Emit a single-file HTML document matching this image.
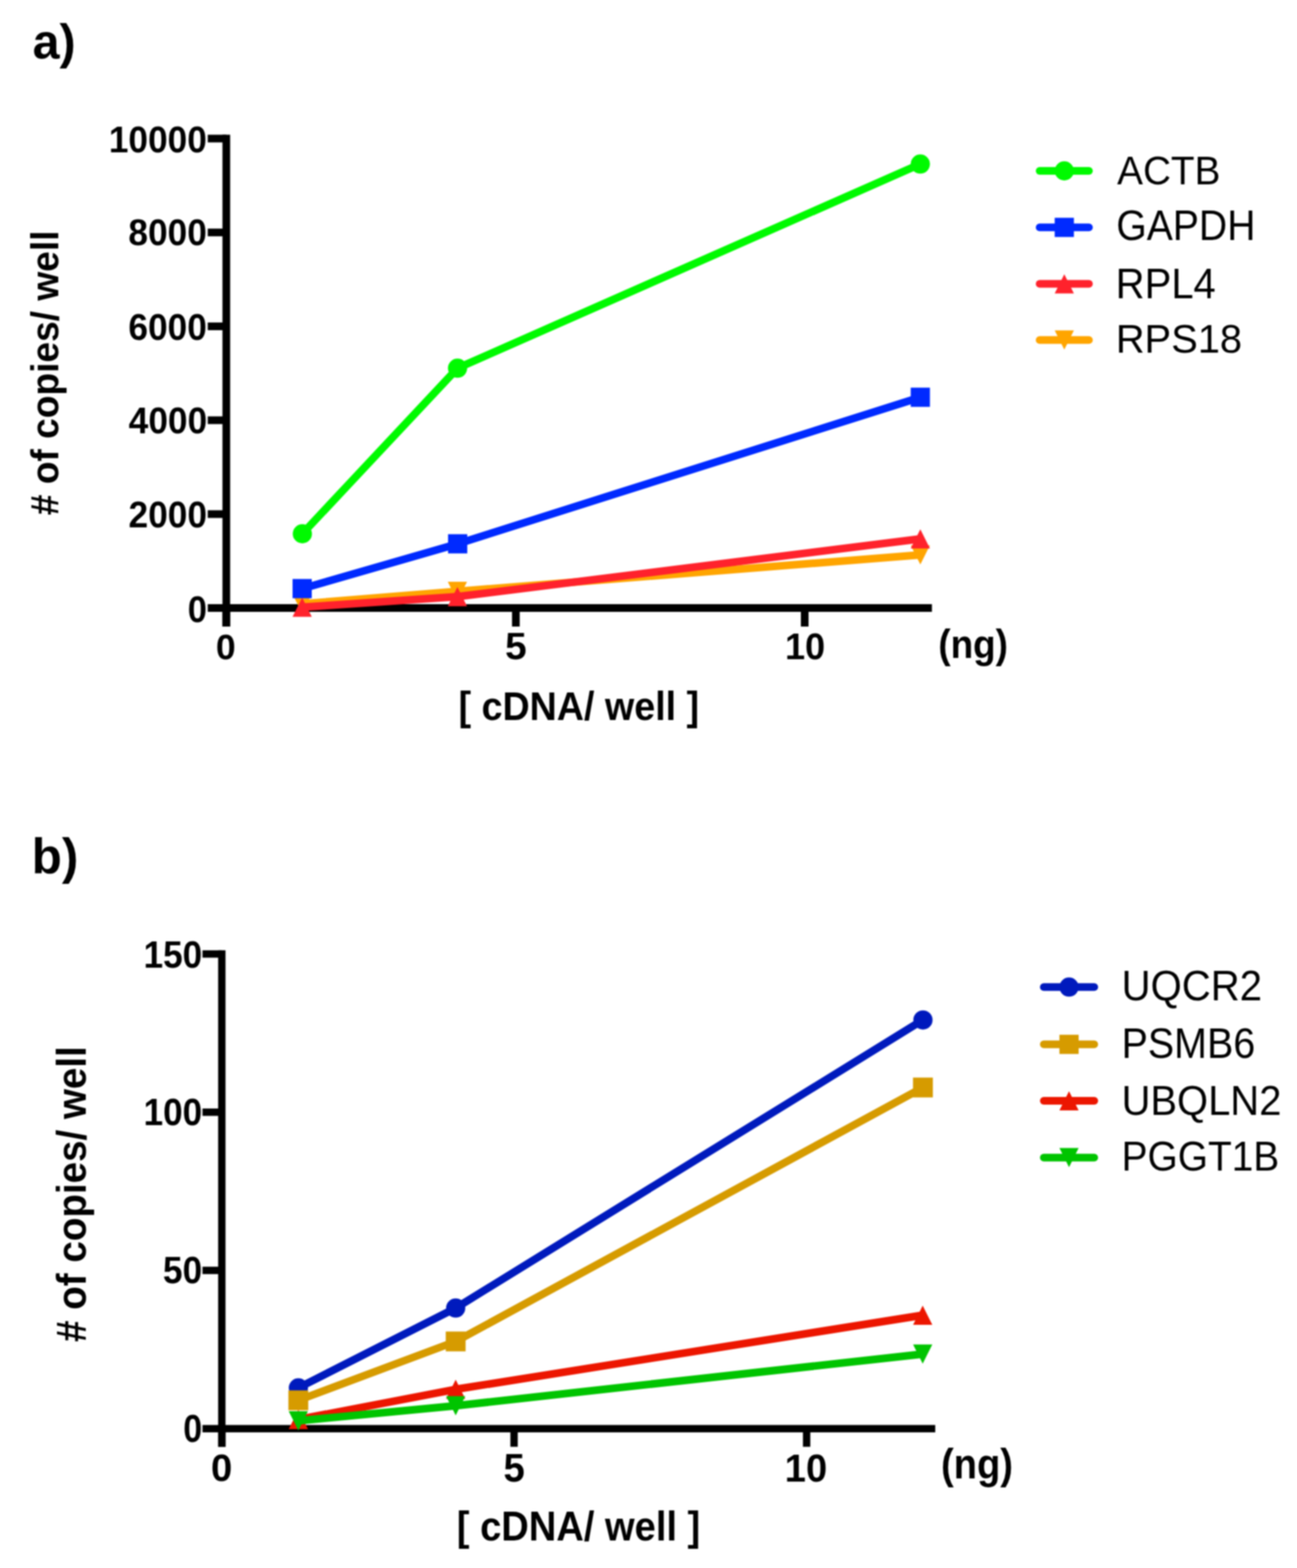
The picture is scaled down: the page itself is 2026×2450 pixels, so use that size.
<!DOCTYPE html>
<html><head><meta charset="utf-8"><title>Figure</title>
<style>html,body{margin:0;padding:0;background:#fff;}svg{display:block;filter:blur(1px);}</style>
</head><body>
<svg width="2026" height="2450" viewBox="0 0 2026 2450">
<rect x="0" y="0" width="2026" height="2450" fill="#fff"/>
<rect x="347.50" y="210.50" width="12.00" height="768.50" fill="#000"/>
<rect x="324.50" y="210.50" width="29.00" height="12.00" fill="#000"/>
<rect x="324.50" y="357.20" width="29.00" height="12.00" fill="#000"/>
<rect x="324.50" y="503.90" width="29.00" height="12.00" fill="#000"/>
<rect x="324.50" y="650.60" width="29.00" height="12.00" fill="#000"/>
<rect x="324.50" y="797.30" width="29.00" height="12.00" fill="#000"/>
<rect x="324.50" y="944.00" width="29.00" height="12.00" fill="#000"/>
<rect x="347.50" y="944.00" width="1108.20" height="12.00" fill="#000"/>
<rect x="347.50" y="950.00" width="12.00" height="29.00" fill="#000"/>
<rect x="799.80" y="950.00" width="12.00" height="29.00" fill="#000"/>
<rect x="1251.00" y="950.00" width="12.00" height="29.00" fill="#000"/>
<rect x="340.75" y="1484.80" width="11.50" height="775.80" fill="#000"/>
<rect x="316.30" y="1484.85" width="30.20" height="11.50" fill="#000"/>
<rect x="316.30" y="1732.05" width="30.20" height="11.50" fill="#000"/>
<rect x="316.30" y="1979.25" width="30.20" height="11.50" fill="#000"/>
<rect x="316.30" y="2226.55" width="30.20" height="11.50" fill="#000"/>
<rect x="340.75" y="2226.55" width="1120.15" height="11.50" fill="#000"/>
<rect x="340.85" y="2232.30" width="11.50" height="28.30" fill="#000"/>
<rect x="797.25" y="2232.30" width="11.50" height="28.30" fill="#000"/>
<rect x="1254.25" y="2232.30" width="11.50" height="28.30" fill="#000"/>
<path d="M 472.00 943.50 L 714.50 924.00 L 1437.60 867.00" fill="none" stroke="#FFA500" stroke-width="12" stroke-linejoin="round" stroke-linecap="round"/>
<polygon points="457.00,928.50 487.00,928.50 472.00,958.50" fill="#FFA500"/>
<polygon points="699.50,909.00 729.50,909.00 714.50,939.00" fill="#FFA500"/>
<polygon points="1422.60,852.00 1452.60,852.00 1437.60,882.00" fill="#FFA500"/>
<path d="M 472.00 948.70 L 714.50 932.30 L 1437.60 842.00" fill="none" stroke="#FF222C" stroke-width="12" stroke-linejoin="round" stroke-linecap="round"/>
<polygon points="472.00,933.70 487.00,963.70 457.00,963.70" fill="#FF222C"/>
<polygon points="714.50,917.30 729.50,947.30 699.50,947.30" fill="#FF222C"/>
<polygon points="1437.60,827.00 1452.60,857.00 1422.60,857.00" fill="#FF222C"/>
<path d="M 472.00 919.70 L 714.90 849.70 L 1437.60 620.70" fill="none" stroke="#002AFF" stroke-width="12" stroke-linejoin="round" stroke-linecap="round"/>
<rect x="457.00" y="904.70" width="30.00" height="30.00" fill="#002AFF"/>
<rect x="699.90" y="834.70" width="30.00" height="30.00" fill="#002AFF"/>
<rect x="1422.60" y="605.70" width="30.00" height="30.00" fill="#002AFF"/>
<path d="M 472.30 834.00 L 714.70 575.30 L 1437.60 256.30" fill="none" stroke="#00FA00" stroke-width="12" stroke-linejoin="round" stroke-linecap="round"/>
<circle cx="472.30" cy="834.00" r="15.00" fill="#00FA00"/>
<circle cx="714.70" cy="575.30" r="15.00" fill="#00FA00"/>
<circle cx="1437.60" cy="256.30" r="15.00" fill="#00FA00"/>
<line x1="1624.00" y1="267.00" x2="1701.00" y2="267.00" stroke="#00FA00" stroke-width="12" stroke-linecap="round"/>
<circle cx="1662.50" cy="267.00" r="15.00" fill="#00FA00"/>
<line x1="1624.00" y1="355.30" x2="1701.00" y2="355.30" stroke="#002AFF" stroke-width="12" stroke-linecap="round"/>
<rect x="1647.50" y="340.30" width="30.00" height="30.00" fill="#002AFF"/>
<line x1="1624.00" y1="443.50" x2="1701.00" y2="443.50" stroke="#FF222C" stroke-width="12" stroke-linecap="round"/>
<polygon points="1662.50,428.50 1677.50,458.50 1647.50,458.50" fill="#FF222C"/>
<line x1="1624.00" y1="531.30" x2="1701.00" y2="531.30" stroke="#FFA500" stroke-width="12" stroke-linecap="round"/>
<polygon points="1647.50,516.30 1677.50,516.30 1662.50,546.30" fill="#FFA500"/>
<path d="M 466.10 2168.50 L 711.80 2043.80 L 1441.70 1593.70" fill="none" stroke="#001ABD" stroke-width="12" stroke-linejoin="round" stroke-linecap="round"/>
<circle cx="466.10" cy="2168.50" r="15.00" fill="#001ABD"/>
<circle cx="711.80" cy="2043.80" r="15.00" fill="#001ABD"/>
<circle cx="1441.70" cy="1593.70" r="15.00" fill="#001ABD"/>
<path d="M 466.00 2188.00 L 711.80 2096.00 L 1441.70 1699.20" fill="none" stroke="#D69B00" stroke-width="12" stroke-linejoin="round" stroke-linecap="round"/>
<rect x="450.50" y="2172.50" width="31.00" height="31.00" fill="#D69B00"/>
<rect x="696.30" y="2080.50" width="31.00" height="31.00" fill="#D69B00"/>
<rect x="1426.20" y="1683.70" width="31.00" height="31.00" fill="#D69B00"/>
<path d="M 466.00 2218.00 L 711.80 2170.80 L 1441.30 2055.00" fill="none" stroke="#EC1600" stroke-width="12" stroke-linejoin="round" stroke-linecap="round"/>
<polygon points="466.00,2203.00 481.00,2233.00 451.00,2233.00" fill="#EC1600"/>
<polygon points="711.80,2155.80 726.80,2185.80 696.80,2185.80" fill="#EC1600"/>
<polygon points="1441.30,2040.00 1456.30,2070.00 1426.30,2070.00" fill="#EC1600"/>
<path d="M 466.00 2220.00 L 711.80 2196.50 L 1441.30 2115.70" fill="none" stroke="#00C400" stroke-width="12" stroke-linejoin="round" stroke-linecap="round"/>
<polygon points="451.00,2205.00 481.00,2205.00 466.00,2235.00" fill="#00C400"/>
<polygon points="696.80,2181.50 726.80,2181.50 711.80,2211.50" fill="#00C400"/>
<polygon points="1426.30,2100.70 1456.30,2100.70 1441.30,2130.70" fill="#00C400"/>
<line x1="1630.50" y1="1542.30" x2="1709.30" y2="1542.30" stroke="#001ABD" stroke-width="12" stroke-linecap="round"/>
<circle cx="1669.90" cy="1542.30" r="15.00" fill="#001ABD"/>
<line x1="1630.50" y1="1631.80" x2="1709.30" y2="1631.80" stroke="#D69B00" stroke-width="12" stroke-linecap="round"/>
<rect x="1654.90" y="1616.80" width="30.00" height="30.00" fill="#D69B00"/>
<line x1="1630.50" y1="1719.90" x2="1709.30" y2="1719.90" stroke="#EC1600" stroke-width="12" stroke-linecap="round"/>
<polygon points="1669.90,1704.90 1684.90,1734.90 1654.90,1734.90" fill="#EC1600"/>
<line x1="1630.50" y1="1808.80" x2="1709.30" y2="1808.80" stroke="#00C400" stroke-width="12" stroke-linecap="round"/>
<polygon points="1654.90,1793.80 1684.90,1793.80 1669.90,1823.80" fill="#00C400"/>
<text id="ta_lbl" transform="translate(50.93,91.23) scale(1,0.9967)" style="font-family:'Liberation Sans',Arial,Helvetica,sans-serif;font-size:75.61px;font-weight:bold">a)</text>
<text id="ta_y0" transform="translate(169.90,237.93) scale(1,1.0579)" style="font-family:'Liberation Sans',Arial,Helvetica,sans-serif;font-size:55.10px;font-weight:bold">10000</text>
<text id="ta_y1" transform="translate(200.51,383.32) scale(1,1.0579)" style="font-family:'Liberation Sans',Arial,Helvetica,sans-serif;font-size:55.10px;font-weight:bold">8000</text>
<text id="ta_y2" transform="translate(200.58,531.14) scale(1,1.0579)" style="font-family:'Liberation Sans',Arial,Helvetica,sans-serif;font-size:55.10px;font-weight:bold">6000</text>
<text id="ta_y3" transform="translate(201.08,676.51) scale(1,1.0579)" style="font-family:'Liberation Sans',Arial,Helvetica,sans-serif;font-size:55.10px;font-weight:bold">4000</text>
<text id="ta_y4" transform="translate(200.76,823.76) scale(1,1.0579)" style="font-family:'Liberation Sans',Arial,Helvetica,sans-serif;font-size:55.10px;font-weight:bold">2000</text>
<text id="ta_y5" transform="translate(293.20,971.98) scale(1,1.0565)" style="font-family:'Liberation Sans',Arial,Helvetica,sans-serif;font-size:54.07px;font-weight:bold">0</text>
<text id="ta_x0" transform="translate(337.15,1029.85) scale(1,0.9962)" style="font-family:'Liberation Sans',Arial,Helvetica,sans-serif;font-size:55.51px;font-weight:bold">0</text>
<text id="ta_x1" transform="translate(788.97,1030.11) scale(1,0.9800)" style="font-family:'Liberation Sans',Arial,Helvetica,sans-serif;font-size:60.60px;font-weight:bold">5</text>
<text id="ta_x2" transform="translate(1226.20,1030.09) scale(1,1.0132)" style="font-family:'Liberation Sans',Arial,Helvetica,sans-serif;font-size:56.50px;font-weight:bold">10</text>
<text id="ta_ng" transform="translate(1465.69,1027.70) scale(1,1.0767)" style="font-family:'Liberation Sans',Arial,Helvetica,sans-serif;font-size:57.63px;font-weight:bold">(ng)</text>
<text id="ta_xt" transform="translate(716.26,1124.52) scale(1,1.0666)" style="font-family:'Liberation Sans',Arial,Helvetica,sans-serif;font-size:58.82px;font-weight:bold">[ cDNA/ well ]</text>
<text id="ta_yt" transform="translate(90.51,582.55) rotate(-90) scale(1,1.0640)" text-anchor="middle" style="font-family:'Liberation Sans',Arial,Helvetica,sans-serif;font-size:58.02px;font-weight:bold"># of copies/ well</text>
<text id="ta_l0" transform="translate(1745.00,288.06) scale(1,1.0249)" style="font-family:'Liberation Sans',Arial,Helvetica,sans-serif;font-size:60.55px;font-weight:normal">ACTB</text>
<text id="ta_l1" transform="translate(1743.78,375.32) scale(1,1.0758)" style="font-family:'Liberation Sans',Arial,Helvetica,sans-serif;font-size:61.12px;font-weight:normal">GAPDH</text>
<text id="ta_l2" transform="translate(1742.87,465.61) scale(1,1.0805)" style="font-family:'Liberation Sans',Arial,Helvetica,sans-serif;font-size:62.47px;font-weight:normal">RPL4</text>
<text id="ta_l3" transform="translate(1742.90,550.59) scale(1,1.0181)" style="font-family:'Liberation Sans',Arial,Helvetica,sans-serif;font-size:62.28px;font-weight:normal">RPS18</text>
<text id="tb_lbl" transform="translate(49.58,1365.01) scale(1,0.9971)" style="font-family:'Liberation Sans',Arial,Helvetica,sans-serif;font-size:77.09px;font-weight:bold">b)</text>
<text id="tb_y0" transform="translate(224.23,1512.29) scale(1,1.0678)" style="font-family:'Liberation Sans',Arial,Helvetica,sans-serif;font-size:54.98px;font-weight:bold">150</text>
<text id="tb_y1" transform="translate(224.21,1758.32) scale(1,1.0678)" style="font-family:'Liberation Sans',Arial,Helvetica,sans-serif;font-size:54.98px;font-weight:bold">100</text>
<text id="tb_y2" transform="translate(254.62,2005.33) scale(1,1.0678)" style="font-family:'Liberation Sans',Arial,Helvetica,sans-serif;font-size:54.98px;font-weight:bold">50</text>
<text id="tb_y3" transform="translate(286.23,2253.35) scale(1,1.1506)" style="font-family:'Liberation Sans',Arial,Helvetica,sans-serif;font-size:53.17px;font-weight:bold">0</text>
<text id="tb_x0" transform="translate(329.40,2314.07) scale(1,0.9930)" style="font-family:'Liberation Sans',Arial,Helvetica,sans-serif;font-size:59.93px;font-weight:bold">0</text>
<text id="tb_x1" transform="translate(786.42,2314.90) scale(1,1.0474)" style="font-family:'Liberation Sans',Arial,Helvetica,sans-serif;font-size:59.77px;font-weight:bold">5</text>
<text id="tb_x2" transform="translate(1225.80,2314.99) scale(1,1.0264)" style="font-family:'Liberation Sans',Arial,Helvetica,sans-serif;font-size:59.57px;font-weight:bold">10</text>
<text id="tb_ng" transform="translate(1470.00,2310.19) scale(1,1.1092)" style="font-family:'Liberation Sans',Arial,Helvetica,sans-serif;font-size:59.47px;font-weight:bold">(ng)</text>
<text id="tb_xt" transform="translate(713.62,2406.95) scale(1,1.1006)" style="font-family:'Liberation Sans',Arial,Helvetica,sans-serif;font-size:59.53px;font-weight:bold">[ cDNA/ well ]</text>
<text id="tb_yt" transform="translate(133.81,1865.69) rotate(-90) scale(1,1.0760)" text-anchor="middle" style="font-family:'Liberation Sans',Arial,Helvetica,sans-serif;font-size:60.25px;font-weight:bold"># of copies/ well</text>
<text id="tb_l0" transform="translate(1751.88,1563.05) scale(1,1.0500)" style="font-family:'Liberation Sans',Arial,Helvetica,sans-serif;font-size:62.74px;font-weight:normal">UQCR2</text>
<text id="tb_l1" transform="translate(1751.95,1652.57) scale(1,1.0775)" style="font-family:'Liberation Sans',Arial,Helvetica,sans-serif;font-size:61.61px;font-weight:normal">PSMB6</text>
<text id="tb_l2" transform="translate(1751.90,1741.98) scale(1,1.0500)" style="font-family:'Liberation Sans',Arial,Helvetica,sans-serif;font-size:62.42px;font-weight:normal">UBQLN2</text>
<text id="tb_l3" transform="translate(1752.03,1829.09) scale(1,1.0638)" style="font-family:'Liberation Sans',Arial,Helvetica,sans-serif;font-size:60.69px;font-weight:normal">PGGT1B</text>
</svg>
</body></html>
